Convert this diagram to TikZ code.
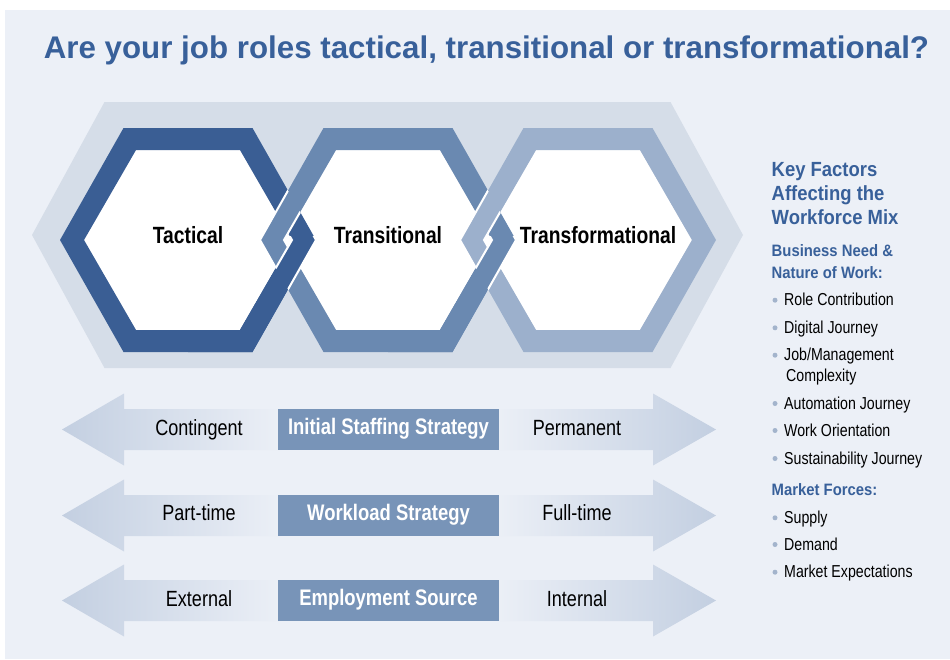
\documentclass[tikz,border=0pt]{standalone}
\usepackage{fontspec}
\setmainfont{Liberation Sans}
\newfontfamily\narrowfont[FakeStretch=0.82]{Liberation Sans}
\newfontfamily\semifont[FakeStretch=0.9]{Liberation Sans}
\usetikzlibrary{positioning}

\definecolor{bgc}{HTML}{ECF0F7}
\definecolor{bighexc}{HTML}{D5DDE8}
\definecolor{darkc}{HTML}{3A5E94}
\definecolor{midc}{HTML}{6A89B1}
\definecolor{lightc}{HTML}{9CB0CC}
\definecolor{arrowc}{HTML}{C3CFE1}
\definecolor{boxc}{HTML}{7894B8}
\definecolor{titlec}{HTML}{38609A}
\definecolor{bulc}{HTML}{A3B4CC}

% hexagon: centre x, centre y, half width, half top width, half height
\newcommand{\hexpath}[5]{(#1-#3,#2) -- (#1-#4,#2-#5) -- (#1+#4,#2-#5) -- (#1+#3,#2) -- (#1+#4,#2+#5) -- (#1-#4,#2+#5) -- cycle}
\newcommand{\outerhex}[2]{\hexpath{#1}{#2}{128}{64.5}{112}}
\newcommand{\innerhex}[2]{\hexpath{#1}{#2}{104}{52}{90}}
% arrows of one row
\newcommand{\larrow}[1]{(62,#1) -- (124,#1-36) -- (124,#1-20.5) -- (284,#1-20.5) -- (284,#1+20.5) -- (124,#1+20.5) -- (124,#1+36) -- cycle}
\newcommand{\rarrow}[1]{(716,#1) -- (653,#1-36) -- (653,#1-20.5) -- (493,#1-20.5) -- (493,#1+20.5) -- (653,#1+20.5) -- (653,#1+36) -- cycle}

\begin{document}
\begin{tikzpicture}[x=1pt,y=-1pt,
        title/.style={font=\fontsize{31.3}{32}\selectfont\bfseries,text=titlec,inner sep=0pt,anchor=base},
        hexlabel/.style={font=\narrowfont\fontsize{23.5}{26}\selectfont\bfseries,inner sep=0pt,anchor=base},
        stratbox/.style={fill=boxc,text=white,minimum width=221pt,minimum height=41pt,inner sep=0pt,
        text height=15pt,text depth=5pt,font=\narrowfont\fontsize{22.5}{25}\selectfont\bfseries},
        endlabel/.style={font=\narrowfont\fontsize{22}{25}\selectfont,inner sep=0pt,anchor=base},
        keyhead/.style={font=\semifont\fontsize{20.5}{23}\selectfont\bfseries,text=titlec,inner sep=0pt,anchor=base west},
        subhead/.style={font=\semifont\fontsize{16.5}{19}\selectfont\bfseries,text=titlec,inner sep=0pt,anchor=base west},
        item/.style={font=\narrowfont\fontsize{17.3}{20}\selectfont,inner sep=0pt,anchor=base west},
        gap/.style={white,line width=2pt}]

        \useasboundingbox (0,0) rectangle (950,659);
        \fill[bgc] (5,10) rectangle (950,659);

        % Title
        \node[title] (head) at (486.5,58) {Are your job roles tactical, transitional or transformational?};

        % Hexagon chain
        \fill[bighexc] \hexpath{387.5}{235}{355.5}{283}{133};
        \fill[white] \innerhex{188}{240} \innerhex{388}{240} \innerhex{588}{240};
        \fill[darkc,even odd rule] \outerhex{188}{240} \innerhex{188}{240};
        \fill[midc,even odd rule] \outerhex{388}{240} \innerhex{388}{240};
        \begin{scope}
            \clip \outerhex{188}{240};
            \draw[gap] \outerhex{388}{240} \innerhex{388}{240};
        \end{scope}
        \begin{scope}
            \clip (188,236) rectangle (330,360);
            \fill[darkc,even odd rule] \outerhex{188}{240} \innerhex{188}{240};
            \clip \outerhex{388}{240};
            \draw[gap] \outerhex{188}{240} \innerhex{188}{240};
        \end{scope}
        \fill[lightc,even odd rule] \outerhex{588}{240} \innerhex{588}{240};
        \begin{scope}
            \clip \outerhex{388}{240};
            \draw[gap] \outerhex{588}{240} \innerhex{588}{240};
        \end{scope}
        \begin{scope}
            \clip (388,236) rectangle (530,360);
            \fill[midc,even odd rule] \outerhex{388}{240} \innerhex{388}{240};
            \clip \outerhex{588}{240};
            \draw[gap] \outerhex{388}{240} \innerhex{388}{240};
        \end{scope}

        \node[hexlabel] (tact) at (188,243) {Tactical};
        \node[hexlabel] (trans) at (388,243) {Transitional};
        \node[hexlabel] (transf) at (598,243) {Transformational};

        % Strategy rows
        \foreach \y in {429.5,515.5,600.5}{
            \shade[left color=arrowc,right color=bgc] \larrow{\y};
            \shade[left color=bgc,right color=arrowc] \rarrow{\y};
        }
        \node[stratbox] (staff) at (388.5,429.5) {Initial Staffing Strategy};
        \node[stratbox] (load) at (388.5,515.5) {Workload Strategy};
        \node[stratbox] (source) at (388.5,600.5) {Employment Source};

        \node[endlabel] (cont) at (199,435) {Contingent};
        \node[endlabel] (perm) at (577,435) {Permanent};
        \node[endlabel] (part) at (199,520.7) {Part-time};
        \node[endlabel] (full) at (577,520.7) {Full-time};
        \node[endlabel] (ext) at (199,606.3) {External};
        \node[endlabel] (int) at (577,606.3) {Internal};

        % Key factors
        \node[keyhead] (key1) at (771.5,176.7) {Key Factors};
        \node[keyhead] (key2) at (771.5,200.3) {Affecting the};
        \node[keyhead] (key3) at (771.5,224) {Workforce Mix};
        \node[subhead] (need1) at (771.5,256) {Business Need \&};
        \node[subhead] (need2) at (771.5,278.3) {Nature of Work:};
        \node[subhead] (market) at (771.5,495.7) {Market Forces:};
        \foreach \t/\yy [count=\i] in {Role Contribution/305.7,Digital Journey/333.3,{Job/Management}/360.7,
            Automation Journey/409,Work Orientation/436,Sustainability Journey/464,
            Supply/523.3,Demand/550,Market Expectations/577.7}{
            \node[item] (item\i) at (784,\yy) {\t};
            \fill[bulc] ([xshift=-9pt,yshift=5.5pt]item\i.base west) circle (2.5pt);
        }
        \node[item] (complex) at (786,381.7) {Complexity};

\end{tikzpicture}
\end{document}
